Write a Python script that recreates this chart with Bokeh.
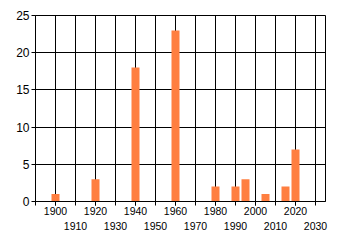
from bokeh.plotting import figure
from bokeh.models import Range1d, FixedTicker, LinearAxis, Grid
from bokeh.embed import file_html
from bokeh.resources import INLINE

years = [1900, 1920, 1940, 1960, 1980, 1990, 1995, 2005, 2015, 2020]
counts = [1, 3, 18, 23, 2, 2, 3, 1, 2, 7]

upper_ticks = [1900, 1920, 1940, 1960, 1980, 2000, 2020]
lower_ticks = [1910, 1930, 1950, 1970, 1990, 2010, 2030]
all_ticks = [1890, 1900, 1910, 1920, 1930, 1940, 1950, 1960, 1970, 1980,
             1990, 2000, 2010, 2020, 2030]
y_ticks = [0, 5, 10, 15, 20, 25]

FONT = "Liberation Sans"
FSIZE = "10.5px"

p = figure(width=340, height=245, output_backend="svg", toolbar_location=None,
           x_range=Range1d(1890, 2035), y_range=Range1d(0, 25),
           min_border_left=35, min_border_right=15, min_border_top=15,
           min_border_bottom=44, x_axis_type=None)

p.vbar(x=years, top=counts, width=4, fill_color="#FF7F40", line_color=None)

# main bottom axis: labels on even decades, tick marks on all decades
ax1 = LinearAxis(ticker=FixedTicker(ticks=upper_ticks, minor_ticks=all_ticks))
ax1.axis_line_color = "black"
ax1.major_tick_line_color = "black"
ax1.minor_tick_line_color = "black"
ax1.major_tick_out = 4
ax1.major_tick_in = 0
ax1.minor_tick_out = 4
ax1.minor_tick_in = 0
ax1.major_label_standoff = 1
ax1.major_label_text_font = FONT
ax1.major_label_text_font_size = FSIZE
ax1.major_label_text_color = "black"
p.add_layout(ax1, "below")

# second row of labels for odd decades
ax2 = LinearAxis(ticker=FixedTicker(ticks=lower_ticks))
ax2.axis_line_color = None
ax2.major_tick_line_color = None
ax2.minor_tick_line_color = None
ax2.major_tick_out = 0
ax2.major_tick_in = 0
ax2.major_label_standoff = 4
ax2.major_label_text_font = FONT
ax2.major_label_text_font_size = FSIZE
ax2.major_label_text_color = "black"
p.add_layout(ax2, "below")

xgrid = Grid(dimension=0, ticker=FixedTicker(ticks=all_ticks),
             grid_line_color="black")
p.add_layout(xgrid, "center")

ya = p.yaxis[0]
ya.ticker = FixedTicker(ticks=y_ticks)
ya.minor_tick_line_color = None
ya.axis_line_color = "black"
ya.major_tick_line_color = "black"
ya.major_tick_out = 4
ya.major_tick_in = 0
ya.major_label_standoff = 2
ya.major_label_text_font = FONT
ya.major_label_text_font_size = "12px"
ya.major_label_text_color = "black"
p.ygrid.ticker = FixedTicker(ticks=y_ticks)
p.ygrid.grid_line_color = "black"

p.outline_line_color = "black"
p.outline_line_alpha = 1
p.background_fill_color = "white"
p.border_fill_color = "white"

open("out.html", "w").write(file_html(p, INLINE))
